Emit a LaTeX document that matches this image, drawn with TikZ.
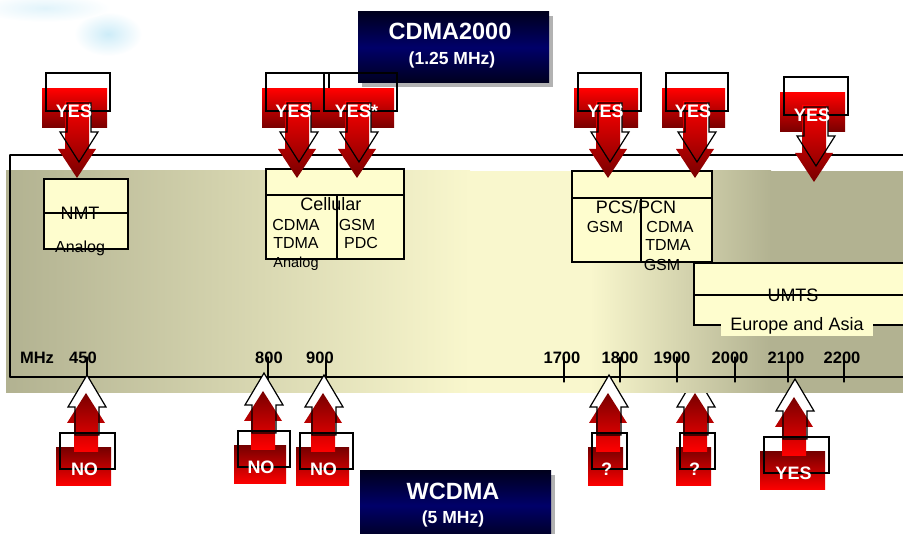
\documentclass[tikz,border=0pt]{standalone}
\usepackage{fontspec}
\setmainfont{Liberation Sans}
\usetikzlibrary{calc}
\usepackage{tkz-euclide}
\definecolor{BoxClr}{RGB}{254,253,206}
\definecolor{OliveClr}{RGB}{178,178,145}
\definecolor{PaleClr}{RGB}{249,247,205}
\definecolor{RedTop}{RGB}{255,0,0}
\definecolor{RedDark}{RGB}{120,0,0}
\definecolor{NavyClr}{RGB}{0,0,105}
\definecolor{NavyDark}{RGB}{0,0,30}
\definecolor{SkyClr}{RGB}{205,236,248}

\newcommand\fsz[1]{\fontsize{#1}{#1}\selectfont}

\tikzset{
  outline/.style={draw=black,line width=1.2pt},
  box/.style={outline,fill=BoxClr},
  navy/.style={top color=NavyDark,bottom color=NavyDark,middle color=NavyClr},
  lbl/.style={inner sep=0pt,text depth=0pt,text height=11.5pt,font=\fsz{16}},
  title/.style={lbl,text height=12.9pt,font=\fsz{18}},
  small/.style={lbl,text height=10.4pt,font=\fsz{14.5}},
  freq/.style={lbl,text height=11.8pt,font=\bfseries\fsz{16.5}},
  answer/.style={lbl,text=white,text height=12.9pt,font=\bfseries\fsz{18}},
  banner/.style={lbl,text=white,text height=16.8pt,font=\bfseries\fsz{23.5}},
  bannersub/.style={lbl,text=white,text height=12.5pt,font=\bfseries\fsz{17.5}}
}

% style, centre x, shaft end y, head base y, tip y
\newcommand\blockarrow[5]{%
  \path[#1] ({#2-12},{#3}) -- ({#2+12},{#3}) -- ({#2+12},{#4}) -- ({#2+19},{#4})
    -- ({#2},{#5}) -- ({#2-19},{#4}) -- ({#2-12},{#4}) -- cycle;}

% name, tip x, box top, box left, box width, text
\newcommand\yesdown[6]{%
  \shade[top color=RedTop,bottom color=RedDark] ({#4-4},{#3+16}) rectangle ({#4-3+#5},{#3+55});
  \blockarrow{fill=white}{#2+2}{#3+30}{#3+59}{#3+89}
  \blockarrow{top color=RedTop,bottom color=RedDark}{#2}{#3+28}{#3+76}{#3+105}
  \blockarrow{outline}{#2+2}{#3+30}{#3+59}{#3+89}
  \draw[outline] (#4,#3) rectangle ++(#5,38);
  \node[answer] (#1) at ({#4+#5/2-4},{#3+38}) {#6};}

% name, tip x, box top, box left, box width, text
\newcommand\noup[6]{%
  \shade[top color=RedDark,bottom color=RedTop] ({#4-4},{#3+15}) rectangle ({#4-4+#5},{#3+53});
  \blockarrow{fill=white}{#2+1}{#3+2}{#3-26}{#3-58}
  \blockarrow{top color=RedDark,bottom color=RedTop}{#2}{#3+19}{#3-10}{#3-40}
  \blockarrow{outline}{#2+1}{#3+2}{#3-26}{#3-58}
  \draw[outline] (#4,#3) rectangle ++(#5,36);
  \node[answer] (#1) at ({#4+#5/2-3},{#3+36}) {#6};}

\begin{document}
\begin{tikzpicture}[x=1pt,y=-1pt]
\useasboundingbox (0,0) rectangle (903,534);
\tkzSetUpLine[line width=1.2pt,color=black]

% sky
\shade[inner color=SkyClr,outer color=white] (108,34) ellipse (34 and 22);
\shade[inner color=SkyClr!60,outer color=white] (45,8) ellipse (65 and 14);

% drawn before the band, which hides its tip
\noup{q2}{695}{433}{680}{35}{?}

% band
\shade[left color=OliveClr,right color=PaleClr] (6,171) rectangle (470,393);
\fill[PaleClr] (469,171) rectangle (591,393);
\shade[left color=PaleClr,right color=OliveClr] (590,171) rectangle (771,393);
\fill[OliveClr] (770,171) rectangle (910,393);

\tkzDefPoints{10/155/F1,910/155/F2,10/377/F3,910/377/F4}
\tkzDrawSegments(F1,F2 F1,F3 F3,F4)

\tkzDefPoints{87/357/a1,87/382/b1,268/357/a2,268/382/b2,326/357/a3,326/382/b3,
  564/357/a4,564/382/b4,620/357/a5,620/382/b5,677/357/a6,677/382/b6,
  735/357/a7,735/382/b7,788/357/a8,788/382/b8,844/357/a9,844/382/b9}
\tkzDrawSegments(a1,b1 a2,b2 a3,b3 a4,b4 a5,b5 a6,b6 a7,b7 a8,b8 a9,b9)

\node[freq] (mhz) at (37,358) {MHz};
\node[freq] (f450) at (83,358) {450};
\node[freq] (f800) at (269,358) {800};
\node[freq] (f900) at (320,358) {900};
\node[freq] (f1700) at (562,358) {1700};
\node[freq] (f1800) at (620,358) {1800};
\node[freq] (f1900) at (672,358) {1900};
\node[freq] (f2000) at (730,358) {2000};
\node[freq] (f2100) at (786,358) {2100};
\node[freq] (f2200) at (842,358) {2200};

% NMT
\draw[box] (44,179) rectangle (128,249);
\draw[outline] (44,213) -- (128,213);
\node[title] (nmt) at (80,213) {NMT};
\node[lbl] (nmtan) at (80,247) {Analog};

% Cellular
\draw[box] (266,169) rectangle (404,259);
\draw[outline] (266,195) -- (404,195) (337,195) -- (337,259);
\node[title] (cell) at (331,204) {Cellular};
\node[lbl] (cellcd) at (296,225) {CDMA};
\node[lbl] (celltd) at (296,243) {TDMA};
\node[small] (cellan) at (296,262) {Analog};
\node[lbl] (cellgs) at (357,225) {GSM};
\node[lbl] (cellpd) at (361,243) {PDC};

% PCS/PCN
\draw[box] (572,171) rectangle (712,262);
\draw[outline] (572,198) -- (712,198) (641,198) -- (641,262);
\node[title] (pcs) at (636,207) {PCS/PCN};
\node[lbl] (pcsgs) at (605,227) {GSM};
\node[lbl] (pcscd) at (670,227) {CDMA};
\node[lbl] (pcstd) at (668,245) {TDMA};
\node[lbl] (pcsgs2) at (662,265) {GSM};

% UMTS
\draw[box] (694,263) rectangle (910,325);
\draw[outline] (694,295) -- (910,295);
\node[title] (umts) at (793,295) {UMTS};
\node[title,fill=BoxClr,inner xsep=9pt,inner ysep=6pt] (umtsea) at (797,324) {Europe and Asia};

% banners
\fill[black!30] (362,16) rectangle (553,87);
\shade[navy] (358,12) rectangle (549,83);
\node[banner] (cdma) at (450,31) {CDMA2000};
\node[bannersub] (cdmabw) at (452,58) {(1.25 MHz)};

\fill[black!30] (365,475) rectangle (555,540);
\shade[navy] (360,471) rectangle (551,540);
\node[banner] (wcdma) at (453,491) {WCDMA};
\node[bannersub] (wcdmabw) at (453,517) {(5 MHz)};

% answers
\yesdown{y1}{77}{73}{46}{64}{YES}
\yesdown{y2}{297}{73}{266}{63}{YES}
\yesdown{y3}{357}{73}{324}{73}{YES*}
\yesdown{y4}{608}{73}{578}{63}{YES}
\yesdown{y5}{695}{73}{666}{62}{YES}
\yesdown{y6}{814}{77}{784}{64}{YES}

\noup{n1}{86}{433}{60}{55}{NO}
\noup{n2}{263}{431}{238}{52}{NO}
\noup{n3}{323}{433}{300}{53}{NO}
\noup{q1}{608}{433}{592}{35}{?}
\noup{y7}{794}{437}{764}{65}{YES}

\end{tikzpicture}
\end{document}
